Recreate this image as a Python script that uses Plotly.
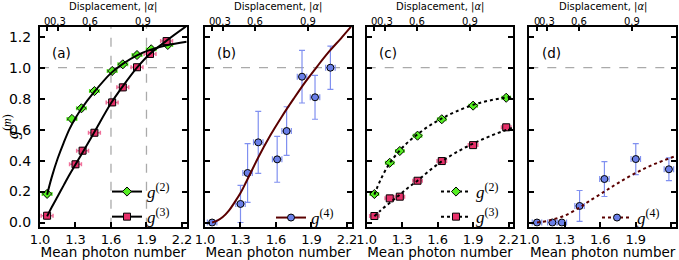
import plotly.graph_objects as go

# ---------------- data ----------------
# panel (a): measured g2 / g3 vs mean photon number
a_n2 = [1.06, 1.27, 1.35, 1.46, 1.61, 1.70, 1.82, 1.94, 2.08]
a_g2 = [0.185, 0.669, 0.738, 0.849, 0.979, 1.022, 1.082, 1.119, 1.147]
a_n3 = [1.06, 1.30, 1.36, 1.46, 1.61, 1.70, 1.82, 1.93, 2.07]
a_g3 = [0.044, 0.376, 0.464, 0.580, 0.776, 0.873, 1.003, 1.089, 1.172]
# panel (a): theory curves
a_fit_n = [1.06, 1.10, 1.15, 1.20, 1.25, 1.30, 1.35, 1.46, 1.60, 1.70, 1.82, 1.93, 2.07, 2.24]
a_fit2 = [0.18, 0.295, 0.415, 0.515, 0.605, 0.675, 0.735, 0.845, 0.965, 1.025, 1.08, 1.115, 1.145, 1.168]
a_fit3 = [0.04, 0.10, 0.17, 0.24, 0.31, 0.375, 0.44, 0.585, 0.77, 0.88, 1.0, 1.09, 1.175, 1.27]

# panel (b): measured g4
b_n = [1.06, 1.30, 1.36, 1.45, 1.61, 1.69, 1.82, 1.93, 2.06]
b_g4 = [0.0, 0.12, 0.32, 0.518, 0.408, 0.591, 0.942, 0.809, 1.0]
b_err = [0.01, 0.12, 0.19, 0.20, 0.148, 0.157, 0.17, 0.142, 0.14]
b_fit_n = [1.06, 1.10, 1.15, 1.20, 1.25, 1.30, 1.35, 1.45, 1.55, 1.65, 1.75, 1.85, 1.95, 2.05, 2.15, 2.24]
b_fit = [0.0, 0.01, 0.035, 0.075, 0.13, 0.19, 0.265, 0.42, 0.56, 0.685, 0.80, 0.91, 1.01, 1.105, 1.19, 1.27]

# panel (c): measured g2 / g3
c_n = [1.065, 1.195, 1.28, 1.43, 1.635, 1.90, 2.18]
c_g2 = [0.184, 0.386, 0.462, 0.561, 0.667, 0.755, 0.806]
c_g3 = [0.042, 0.156, 0.167, 0.270, 0.397, 0.500, 0.615]
c_fit_n = [1.065, 1.12, 1.20, 1.28, 1.35, 1.43, 1.53, 1.635, 1.75, 1.90, 2.05, 2.24]
c_fit2 = [0.18, 0.28, 0.39, 0.465, 0.52, 0.57, 0.625, 0.672, 0.715, 0.76, 0.79, 0.815]
c_fit3 = [0.04, 0.08, 0.13, 0.18, 0.225, 0.27, 0.335, 0.395, 0.45, 0.51, 0.56, 0.615]

# panel (d): measured g4
d_n = [1.065, 1.195, 1.275, 1.425, 1.635, 1.90, 2.18]
d_g4 = [0.0, 0.0, 0.0, 0.107, 0.281, 0.410, 0.344]
d_err = [0.005, 0.005, 0.005, 0.10, 0.113, 0.10, 0.073]
d_fit_n = [1.065, 1.15, 1.20, 1.30, 1.42, 1.50, 1.635, 1.75, 1.90, 2.05, 2.24]
d_fit = [0.0, 0.01, 0.02, 0.045, 0.095, 0.135, 0.20, 0.255, 0.32, 0.375, 0.43]

x_ticks = [1.0, 1.3, 1.6, 1.9, 2.2]
y_ticks = [0.0, 0.2, 0.4, 0.6, 0.8, 1.0, 1.2]
alpha_labels = ["0", "0.3", "0.6", "0.9"]
alpha_pos = [1.062, 1.152, 1.422, 1.872]   # mean photon number = 1.062 + |alpha|^2
a_vlines = [1.6, 1.9]
panel_labels = ["(a)", "(b)", "(c)", "(d)"]

# ---------------- style ----------------
GREEN = "#55ee22"
RED = "#e8306a"
RED_ERR = "#f0709a"
BLUE = "#6a7fe8"
BLUE_ERR = "#8090f0"
MAROON = "#5b0000"
XR = [1.0, 2.24]
YR = [-0.027, 1.263]
SANS = "DejaVu Sans"
SERIF = "Liberation Serif"

xdoms = [[40/679, 186.7/679], [205/679, 351.7/679], [366.7/679, 513.3/679], [529.3/679, 676/679]]
ydom = [1 - 226.7/260, 1 - 27/260]

fig = go.Figure()


def err(vals, color, width=2, thick=1.5):
    return dict(type="data", array=vals, color=color, thickness=thick, width=width, visible=True)


def const(v, n):
    return [v] * n


# ---- panel (a)  (theory curves live on the top |alpha| axis, which shares the range)
fig.add_trace(go.Scatter(x=a_fit_n, y=a_fit2, mode="lines", line=dict(color="black", width=2, shape="spline"),
                         showlegend=False, xaxis="x5", yaxis="y"))
fig.add_trace(go.Scatter(x=a_fit_n, y=a_fit3, mode="lines", line=dict(color="black", width=2, shape="spline"),
                         showlegend=False, xaxis="x5", yaxis="y"))
fig.add_trace(go.Scatter(x=a_n2, y=a_g2, mode="markers",
                         marker=dict(symbol="diamond", size=7, color=GREEN, line=dict(color="black", width=1)),
                         error_x=err(const(0.04, len(a_n2)), GREEN), error_y=err(const(0.015, len(a_n2)), GREEN),
                         showlegend=False, xaxis="x", yaxis="y"))
fig.add_trace(go.Scatter(x=a_n3, y=a_g3, mode="markers",
                         marker=dict(symbol="square", size=7, color=RED, line=dict(color="black", width=1)),
                         error_x=err(const(0.05, len(a_n3)), RED_ERR), error_y=err(const(0.02, len(a_n3)), RED_ERR),
                         showlegend=False, xaxis="x", yaxis="y"))
fig.add_trace(go.Scatter(x=[None], y=[None], mode="lines+markers", name="<i>g</i><sup>(2)</sup>",
                         line=dict(color="black", width=2),
                         marker=dict(symbol="diamond", size=7, color=GREEN, line=dict(color="black", width=1)),
                         legend="legend", xaxis="x", yaxis="y"))
fig.add_trace(go.Scatter(x=[None], y=[None], mode="lines+markers", name="<i>g</i><sup>(3)</sup>",
                         line=dict(color="black", width=2),
                         marker=dict(symbol="square", size=7, color=RED, line=dict(color="black", width=1)),
                         legend="legend", xaxis="x", yaxis="y"))

# ---- panel (b)
fig.add_trace(go.Scatter(x=b_fit_n, y=b_fit, mode="lines", line=dict(color=MAROON, width=2, shape="spline"),
                         showlegend=False, xaxis="x6", yaxis="y2"))
fig.add_trace(go.Scatter(x=b_n, y=b_g4, mode="markers",
                         marker=dict(symbol="circle", size=7, color=BLUE, line=dict(color="black", width=1)),
                         error_x=err(const(0.04, len(b_n)), BLUE_ERR, width=3, thick=1.2),
                         error_y=err(b_err, BLUE_ERR, width=3, thick=1.2),
                         showlegend=False, xaxis="x2", yaxis="y2"))
fig.add_trace(go.Scatter(x=[None], y=[None], mode="lines+markers", name="<i>g</i><sup>(4)</sup>",
                         line=dict(color=MAROON, width=2),
                         marker=dict(symbol="circle", size=7, color=BLUE, line=dict(color="black", width=1)),
                         legend="legend2", xaxis="x2", yaxis="y2"))

# ---- panel (c)
fig.add_trace(go.Scatter(x=c_fit_n, y=c_fit2, mode="lines", line=dict(color="black", width=2, dash="dot", shape="spline"),
                         showlegend=False, xaxis="x7", yaxis="y3"))
fig.add_trace(go.Scatter(x=c_fit_n, y=c_fit3, mode="lines", line=dict(color="black", width=2, dash="dot", shape="spline"),
                         showlegend=False, xaxis="x7", yaxis="y3"))
fig.add_trace(go.Scatter(x=c_n, y=c_g2, mode="markers",
                         marker=dict(symbol="diamond", size=7, color=GREEN, line=dict(color="black", width=1)),
                         error_x=err(const(0.035, len(c_n)), GREEN), error_y=err(const(0.015, len(c_n)), GREEN),
                         showlegend=False, xaxis="x3", yaxis="y3"))
fig.add_trace(go.Scatter(x=c_n, y=c_g3, mode="markers",
                         marker=dict(symbol="square", size=7, color=RED, line=dict(color="black", width=1)),
                         error_x=err(const(0.04, len(c_n)), RED_ERR), error_y=err(const(0.015, len(c_n)), RED_ERR),
                         showlegend=False, xaxis="x3", yaxis="y3"))
fig.add_trace(go.Scatter(x=[None], y=[None], mode="lines+markers", name="<i>g</i><sup>(2)</sup>",
                         line=dict(color="black", width=2, dash="dot"),
                         marker=dict(symbol="diamond", size=7, color=GREEN, line=dict(color="black", width=1)),
                         legend="legend3", xaxis="x3", yaxis="y3"))
fig.add_trace(go.Scatter(x=[None], y=[None], mode="lines+markers", name="<i>g</i><sup>(3)</sup>",
                         line=dict(color="black", width=2, dash="dot"),
                         marker=dict(symbol="square", size=7, color=RED, line=dict(color="black", width=1)),
                         legend="legend3", xaxis="x3", yaxis="y3"))

# ---- panel (d)
fig.add_trace(go.Scatter(x=d_fit_n, y=d_fit, mode="lines", line=dict(color=MAROON, width=2, dash="dot", shape="spline"),
                         showlegend=False, xaxis="x8", yaxis="y4"))
fig.add_trace(go.Scatter(x=d_n, y=d_g4, mode="markers",
                         marker=dict(symbol="circle", size=7, color=BLUE, line=dict(color="black", width=1)),
                         error_x=err(const(0.04, len(d_n)), BLUE_ERR, width=3, thick=1.2),
                         error_y=err(d_err, BLUE_ERR, width=3, thick=1.2),
                         showlegend=False, xaxis="x4", yaxis="y4"))
fig.add_trace(go.Scatter(x=[None], y=[None], mode="lines+markers", name="<i>g</i><sup>(4)</sup>",
                         line=dict(color=MAROON, width=2, dash="dot"),
                         marker=dict(symbol="circle", size=7, color=BLUE, line=dict(color="black", width=1)),
                         legend="legend4", xaxis="x4", yaxis="y4"))

# ---------------- axes ----------------
layout = dict(width=679, height=260, margin=dict(l=0, r=0, t=0, b=0),
              plot_bgcolor="white", paper_bgcolor="white", shapes=[], annotations=[])

for i in range(4):
    s = "" if i == 0 else str(i + 1)
    top = "x" + str(i + 5)
    layout["xaxis" + s] = dict(
        domain=xdoms[i], range=XR, anchor="y" + s, tickvals=x_ticks, ticktext=[f"{v:.1f}" for v in x_ticks],
        ticks="inside", ticklen=5, tickwidth=1.5, tickcolor="black",
        showline=True, linewidth=2, linecolor="black", mirror=True, showgrid=False, zeroline=False,
        tickfont=dict(family=SANS, size=13, color="black"),
        title=dict(text="Mean photon number", font=dict(family=SANS, size=13.5, color="black"), standoff=3),
        automargin=False)
    layout["yaxis" + s] = dict(
        domain=ydom, range=YR, anchor="x" + s, tickvals=y_ticks, tickformat=".1f",
        ticks="inside", ticklen=5, tickwidth=1.5, tickcolor="black",
        showline=True, linewidth=2, linecolor="black", mirror="ticks", showgrid=False, zeroline=False,
        showticklabels=(i == 0), ticklabelstandoff=4,
        tickfont=dict(family=SANS, size=14, color="black"), automargin=False)
    layout["xaxis" + str(i + 5)] = dict(
        overlaying="x" + s, side="top", anchor="y" + s, range=XR, tickvals=alpha_pos,
        ticks="inside", ticklen=4, tickwidth=1.5, tickcolor="black", showline=False, showgrid=False,
        zeroline=False, showticklabels=False, automargin=False)
    # top-axis tick labels and title (|alpha| scale)
    for p, lab in zip(alpha_pos, alpha_labels):
        layout["annotations"].append(dict(text=lab, xref=top, x=p, yref="paper", y=1 - 21.5/260,
                                          xanchor="center", yanchor="middle", showarrow=False,
                                          font=dict(family=SANS, size=10, color="black")))
    layout["annotations"].append(dict(text="Displacement, |<i>α</i>|", xref="x" + s + " domain", x=0.5,
                                      yref="paper", y=1 - 6.5/260, xanchor="center", yanchor="middle",
                                      showarrow=False, font=dict(family=SANS, size=10, color="black")))
    # dashed g=1 reference line
    layout["shapes"].append(dict(type="line", xref="x" + s + " domain", x0=0, x1=1, yref="y" + s, y0=1, y1=1,
                                 line=dict(color="#aaaaaa", width=1.3, dash="dash"), layer="below"))
    layout["annotations"].append(dict(text=panel_labels[i], xref="x" + s + " domain", yref="y" + s + " domain",
                                      x=0.07, y=0.87, xanchor="left", yanchor="middle", showarrow=False,
                                      font=dict(family=SANS, size=13.5, color="black")))

for v in a_vlines:
    layout["shapes"].append(dict(type="line", xref="x", x0=v, x1=v, yref="y domain", y0=0, y1=1,
                                 line=dict(color="#aaaaaa", width=1.3, dash="dash"), layer="below"))

layout["yaxis"]["title"] = dict(text="<i>g</i><sup>(<i>m</i>)</sup>", font=dict(family=SERIF, size=17, color="black"),
                                standoff=3)

leg_font = dict(family=SERIF, size=17, color="black")
leg_common = dict(xanchor="left", yanchor="top", bgcolor="rgba(0,0,0,0)", borderwidth=0, font=leg_font,
                  itemwidth=30, tracegroupgap=0)
layout["legend"] = dict(x=107/679, y=1 - 174/260, **leg_common)
layout["legend2"] = dict(x=271/679, y=1 - 200/260, **leg_common)
layout["legend3"] = dict(x=436/679, y=1 - 174/260, **leg_common)
layout["legend4"] = dict(x=597/679, y=1 - 200/260, **leg_common)

fig.update_layout(**layout)
fig.write_html("out.html", config={"displayModeBar": False},
               post_script="document.body.style.margin='0';document.body.style.overflow='hidden';")
